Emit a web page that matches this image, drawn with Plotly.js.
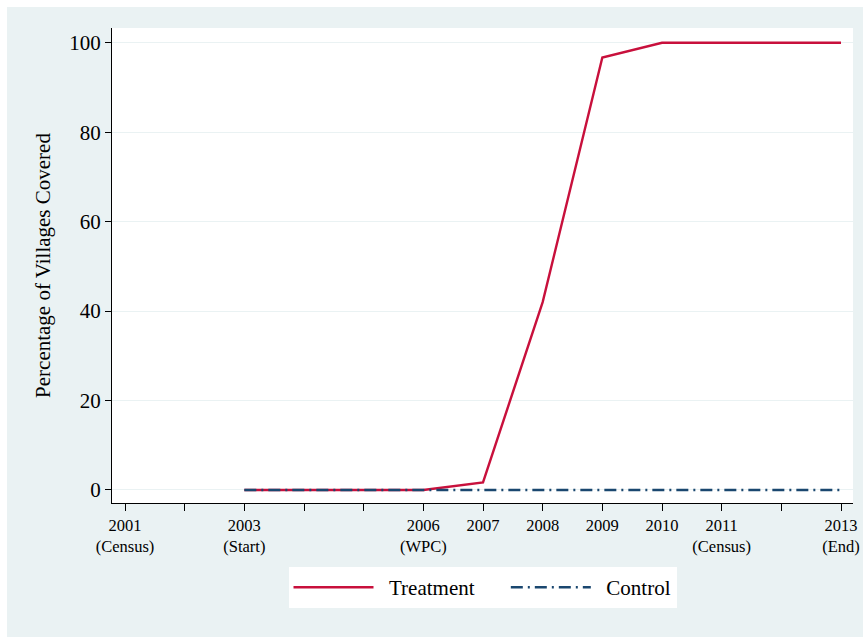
<!DOCTYPE html>
<html>
<head>
<meta charset="utf-8">
<script src="https://cdn.plot.ly/plotly-3.0.1.min.js"></script>
<style>
  html, body { margin: 0; padding: 0; background: #ffffff; }
  #chart { position: absolute; left: 7px; top: 7px; width: 856px; height: 630px; }
</style>
</head>
<body>
<div id="chart"></div>
<script>
const years = [2003, 2004, 2005, 2006, 2007, 2008, 2009, 2010, 2011, 2012, 2013];
const treatment = [0, 0, 0, 0, 1.7, 42, 96.7, 100, 100, 100, 100];
const control = [0, 0, 0, 0, 0, 0, 0, 0, 0, 0, 0];

const tickYears = [2001, 2002, 2003, 2004, 2005, 2006, 2007, 2008, 2009, 2010, 2011, 2012, 2013];
const tickLabels = ["2001<br>(Census)", "", "2003<br>(Start)", "", "", "2006<br>(WPC)", "2007", "2008", "2009", "2010", "2011<br>(Census)", "", "2013<br>(End)"];
const yTicks = [0, 20, 40, 60, 80, 100];
const seriesNames = ["Treatment", "Control"];

const serif = "'Liberation Serif', 'Times New Roman', serif";
const lead = "\u00a0\u00a0";
const trail = "\u00a0\u00a0\u00a0\u00a0\u00a0";

const traces = [
  {
    x: years, y: treatment, name: lead + seriesNames[0] + trail, type: "scatter", mode: "lines",
    line: { color: "#c8103c", width: 2.4 }
  },
  {
    x: years, y: control, name: lead + seriesNames[1], type: "scatter", mode: "lines",
    line: { color: "#1a476f", width: 2.4, dash: "12px,5px,2px,5px" }
  }
];

const layout = {
  width: 856, height: 630,
  paper_bgcolor: "#eaf2f3",
  plot_bgcolor: "#ffffff",
  margin: { l: 105, r: 10, t: 21, b: 134 },
  font: { family: serif, color: "#000000" },
  xaxis: {
    range: [2000.782, 2013.201],
    tickmode: "array", tickvals: tickYears, ticktext: tickLabels,
    ticks: "outside", ticklen: 7, tickwidth: 1, tickcolor: "#000",
    showline: true, linecolor: "#000", linewidth: 1,
    showgrid: false, zeroline: false,
    tickfont: { family: serif, size: 16.5, color: "#000" },
    tickangle: 0
  },
  yaxis: {
    range: [-2.91, 103.29],
    tickmode: "array", tickvals: yTicks,
    ticks: "outside", ticklen: 6, tickwidth: 1, tickcolor: "#000",
    showline: true, linecolor: "#000", linewidth: 1,
    showgrid: true, gridcolor: "#eaf2f3", gridwidth: 1,
    zeroline: false,
    tickfont: { family: serif, size: 21, color: "#000" },
    title: { text: "Percentage of Villages Covered", font: { family: serif, size: 21, color: "#000" }, standoff: 12 }
  },
  showlegend: true,
  legend: {
    orientation: "h",
    x: 0.5, xanchor: "center",
    y: -0.135, yanchor: "top",
    bgcolor: "#ffffff",
    borderwidth: 0,
    font: { family: serif, size: 21, color: "#000" },
    itemwidth: 80,
    traceorder: "normal"
  }
};

Plotly.newPlot("chart", traces, layout, { displayModeBar: false, staticPlot: true });
</script>
</body>
</html>
